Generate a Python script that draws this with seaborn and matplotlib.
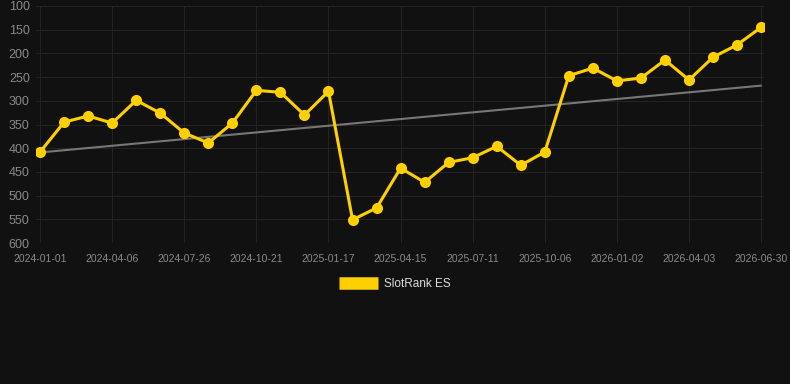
import matplotlib
matplotlib.use("Agg")
import matplotlib.pyplot as plt
import seaborn as sns
import pandas as pd

# rank values, one point per step (inverted axis: lower rank is better)
rank = [408, 345, 332, 347, 299, 326, 368, 389, 347, 278, 282, 330, 280, 551,
        526, 442, 472, 430, 420, 396, 436, 408, 247, 231, 258, 252, 214, 256,
        208, 182, 145]
tick_labels = ["2024-01-01", "2024-04-06", "2024-07-26", "2024-10-21", "2025-01-17",
               "2025-04-15", "2025-07-11", "2025-10-06", "2026-01-02", "2026-04-03",
               "2026-06-30"]
trend = [409, 268]
series_name = "SlotRank ES"

bg = "#111111"
grid = "#232323"
gold = "#FFD000"

sns.set_theme(style="dark")
plt.rcParams["font.family"] = ["Liberation Sans", "DejaVu Sans"]

df = pd.DataFrame({"step": range(len(rank)), "rank": rank})

fig = plt.figure(figsize=(7.9, 3.84), dpi=100, facecolor=bg)
ax = fig.add_axes([36 / 790, 1 - 243 / 384, 728 / 790, 237 / 384])
ax.set_facecolor(bg)

ax.plot([0, len(rank) - 1], trend, color="#777777", lw=1.5, zorder=2)
sns.lineplot(data=df, x="step", y="rank", ax=ax, color=gold, lw=2.2,
             marker="o", markersize=8, markeredgewidth=0, legend=False, zorder=3)

ax.set_ylim(600, 100)
ax.set_xlim(-0.17, 30.12)
ax.set_yticks(range(100, 601, 50))
ax.set_xticks(range(0, len(rank), 3))
ax.set_xticklabels(tick_labels)
ax.grid(True, color=grid, lw=0.8)
for s in ax.spines.values():
    s.set_visible(False)
ax.tick_params(axis="y", colors="#8a8a8a", labelsize=9, length=0, pad=4.5)
ax.tick_params(axis="x", colors="#8a8a8a", labelsize=7.5, length=0, pad=8)
ax.set_xlabel("")
ax.set_ylabel("")

handle = plt.Line2D([], [], color=gold, lw=9, solid_capstyle="butt")
leg = fig.legend([handle], [series_name], loc="center", bbox_to_anchor=(0.5, 1 - 284 / 384),
                 frameon=False, handlelength=3.3, handletextpad=0.5, fontsize=8.5)
for t in leg.get_texts():
    t.set_color("#dddddd")

fig.savefig("out.png", dpi=100, facecolor=bg)
